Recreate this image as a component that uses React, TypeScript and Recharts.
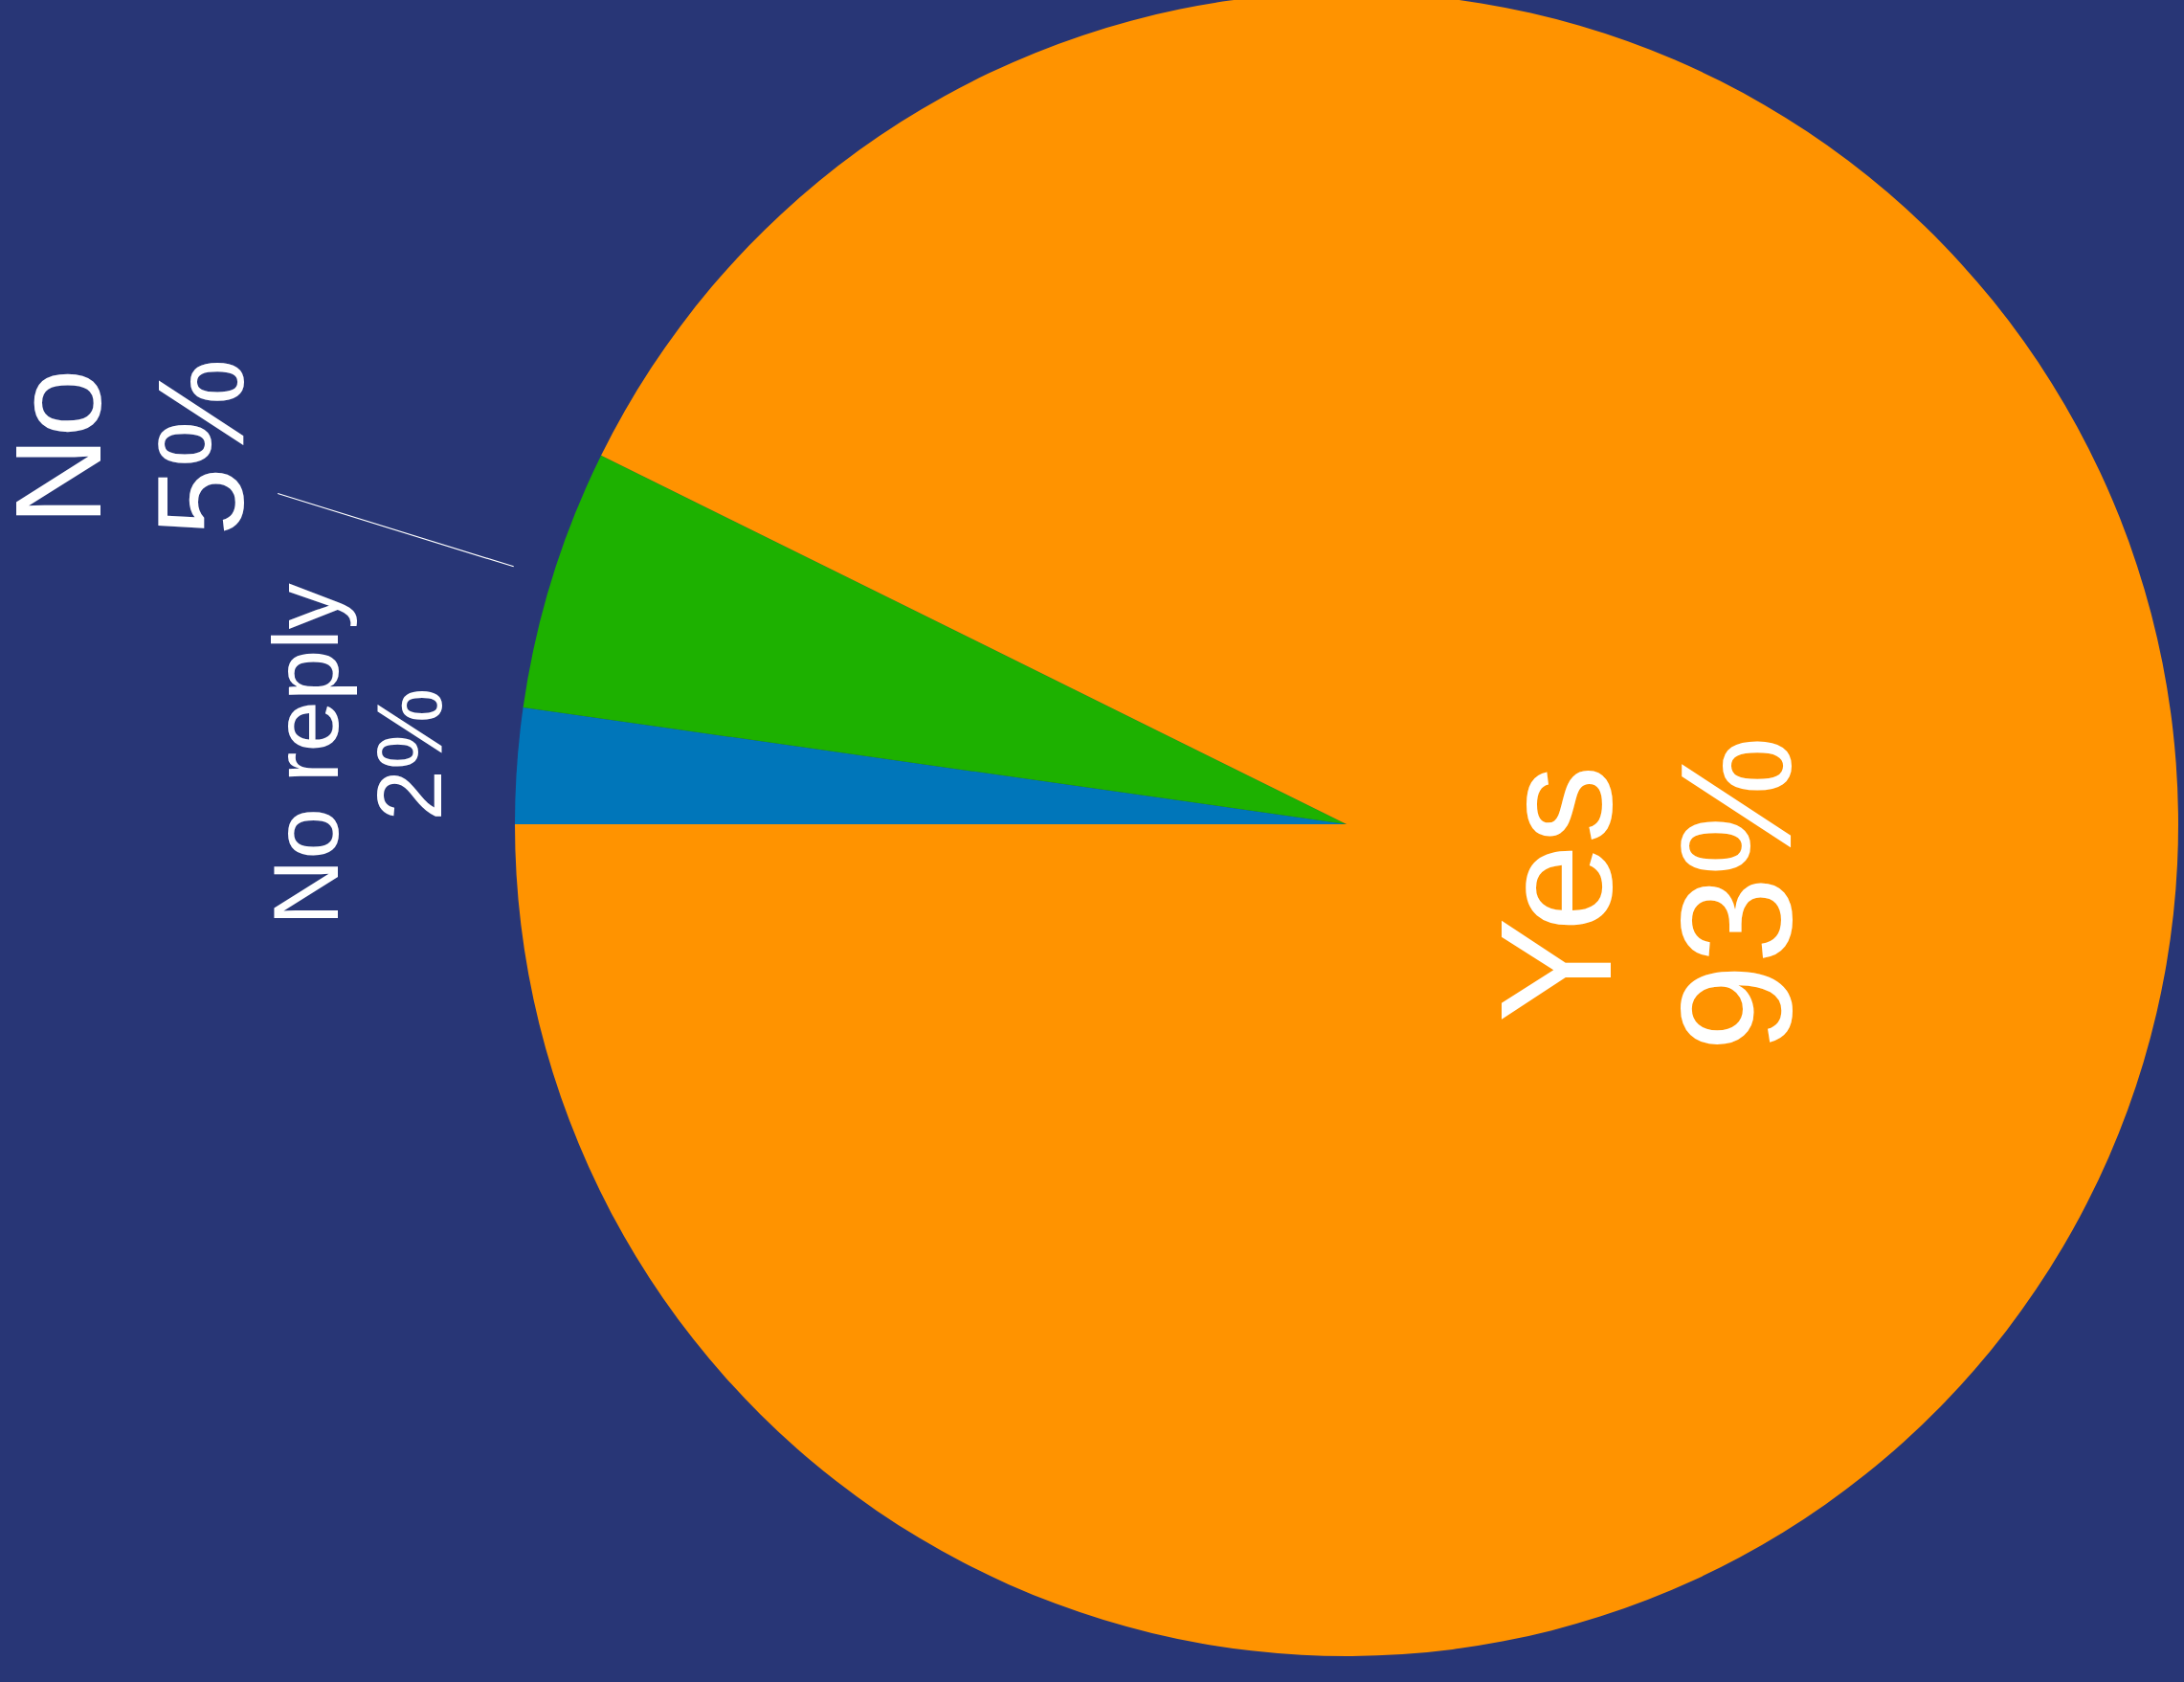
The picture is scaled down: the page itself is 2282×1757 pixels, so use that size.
import React from 'react';
import { PieChart, Pie, Cell } from 'recharts';

const categories = ['No reply', 'No', 'Yes'];
const values = [2.24, 5.07, 92.69];
const colors = ['#0076BA', '#1DB100', '#FF9300'];

const data = categories.map((name, i) => ({ name, value: values[i] }));

const W = 2282;
const H = 1757;
const BG = '#283676';
const FONT = '"Liberation Sans", Arial, Helvetica, sans-serif';

// label placement/style (not data)
const labelStyle: Record<string, { fontSize: number; lineHeight: number; inside: boolean; r: number; line?: [number, number] }> = {
  'No reply': { fontSize: 96, lineHeight: 108, inside: false, r: 168 },
  'No': { fontSize: 128, lineHeight: 149, inside: false, r: 464, line: [42, 300] },
  'Yes': { fontSize: 165, lineHeight: 188, inside: true, r: 0.367 },
};

const RAD = Math.PI / 180;

const renderLabel = (props: any) => {
  const { cx, cy, midAngle, outerRadius, name, percent } = props;
  const st = labelStyle[name];
  if (!st) return null;
  const dist = st.inside ? outerRadius * st.r : outerRadius + st.r;
  const cosA = Math.cos(-midAngle * RAD);
  const sinA = Math.sin(-midAngle * RAD);
  const x = cx + dist * cosA;
  const y = cy + dist * sinA;
  const cap = st.fontSize * 0.716;
  const b1 = (cap - st.lineHeight) / 2;
  const b2 = (cap + st.lineHeight) / 2;
  const pct = `${Math.round(percent * 100)}%`;
  let line = null;
  if (st.line) {
    const r1 = outerRadius + st.line[0];
    const r2 = outerRadius + st.line[1];
    line = (
      <line
        x1={cx + r1 * cosA}
        y1={cy + r1 * sinA}
        x2={cx + r2 * cosA}
        y2={cy + r2 * sinA}
        stroke="#ffffff"
        strokeWidth={1.2}
      />
    );
  }
  return (
    <g key={`lbl-${name}`}>
      {line}
      <g transform={`translate(${x},${y}) rotate(-90)`}>
        <text x={0} y={b1} textAnchor="middle" fill="#ffffff" fontSize={st.fontSize} fontFamily={FONT}>
          {name}
        </text>
        <text x={0} y={b2} textAnchor="middle" fill="#ffffff" fontSize={st.fontSize} fontFamily={FONT}>
          {pct}
        </text>
      </g>
    </g>
  );
};

export default function App() {
  return (
    <div style={{ position: 'fixed', left: 0, top: 0, width: W, height: H, background: BG, overflow: 'hidden' }}>
      <PieChart width={W} height={H} margin={{ top: 0, right: 0, bottom: 0, left: 0 }}>
        <Pie
          data={data}
          dataKey="value"
          nameKey="name"
          cx={1407}
          cy={861}
          innerRadius={0}
          outerRadius={869}
          startAngle={180}
          endAngle={-180}
          paddingAngle={0}
          stroke="none"
          label={renderLabel}
          labelLine={false}
          isAnimationActive={false}
        >
          {data.map((d, i) => (
            <Cell key={d.name} fill={colors[i]} stroke="none" />
          ))}
        </Pie>
      </PieChart>
    </div>
  );
}
